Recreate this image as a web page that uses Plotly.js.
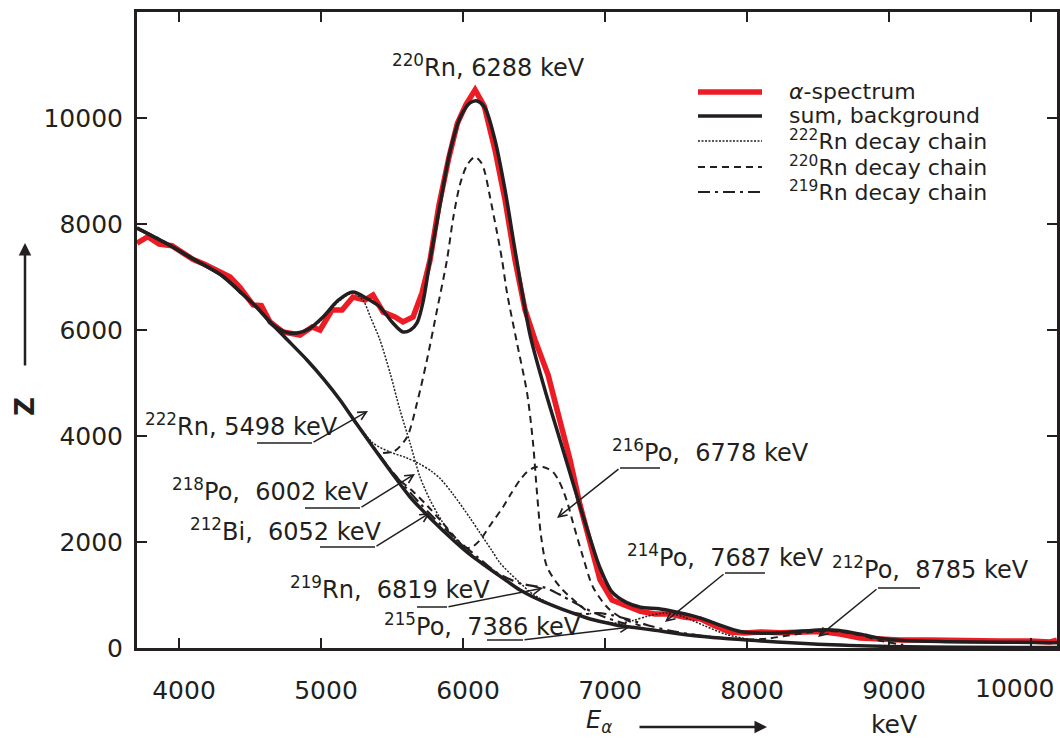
<!DOCTYPE html>
<html>
<head>
<meta charset="utf-8">
<script src="https://cdn.plot.ly/plotly-3.0.1.min.js"></script>
<style>html,body{margin:0;padding:0;background:#fff;}#chart{width:1060px;height:740px;}</style>
</head>
<body>
<div id="chart"></div>
<script>
// ---------- data ----------
const xTicks = [4000, 5000, 6000, 7000, 8000, 9000, 10000];
const xTickText = ['4000', '5000', '6000', '7000', '8000', '9000', ''];  // 10000 is drawn shifted left, as in the reference
const yTicks = [0, 2000, 4000, 6000, 8000, 10000];

// measured alpha spectrum
const redX = [3704,3780,3860,3950,4030,4100,4180,4260,4360,4430,4521,4580,4641,4732,4852,4937,4993,5077,5148,5225,5310,5366,5437,5521,5577,5648,5711,5768,5830,5900,5960,6020,6085,6150,6225,6296,6366,6437,6507,6599,6683,6754,6824,6894,6965,7049,7176,7250,7352,7458,7563,7669,7775,7880,7986,8092,8232,8373,8514,8655,8796,8937,9077,9289,9500,9782,9993,10134,10183];
const redY = [7640,7760,7620,7590,7450,7330,7240,7130,7000,6800,6473,6460,6152,5963,5906,6057,6000,6378,6378,6623,6567,6661,6340,6246,6152,6246,6699,7322,8350,9250,9900,10250,10530,10220,9400,8454,7322,6378,5812,5152,4302,3548,2698,1944,1283,906,755,690,640,640,580,550,415,302,283,302,290,290,310,264,189,170,151,151,132,132,132,113,150];

// fitted sum
const sumX = [3704,3900,4100,4300,4430,4550,4662,4750,4831,4920,5014,5120,5225,5320,5415,5500,5577,5630,5676,5720,5768,5838,5908,5979,6049,6099,6155,6225,6296,6366,6472,6577,6683,6789,6894,6965,7049,7150,7250,7380,7500,7600,7700,7800,7950,8100,8250,8400,8550,8650,8800,8950,9100,9400,9800,10183];
const sumY = [7925,7650,7340,7030,6720,6420,6095,5960,5944,6030,6246,6560,6718,6600,6435,6150,5963,6000,6133,6550,7322,8360,9360,10001,10284,10322,10190,9586,8642,7510,5906,4868,3925,2982,2076,1510,1057,860,770,740,680,620,540,440,310,280,290,320,345,330,260,180,140,120,110,100];

// background
const bgX = [3704,3900,4100,4300,4430,4550,4641,4750,4901,5020,5134,5250,5366,5500,5627,5780,5930,6050,6169,6290,6401,6520,6634,6750,6873,7000,7106,7220,7338,7600,8000,8500,9000,9500,10183];
const bgY = [7925,7650,7340,7030,6720,6420,6150,5850,5435,5070,4680,4230,3793,3300,2849,2420,2038,1760,1528,1300,1094,930,800,680,566,480,420,380,340,240,150,70,30,15,8];

// 222Rn decay chain (peak + background)
const rn222X = [4550,4662,4750,4831,4920,5014,5120,5225,5296,5350,5415,5486,5556,5627,5697,5768,5850,5930,6050,6169];
const rn222Y = [6420,6095,5950,5930,6010,6220,6530,6700,6560,6230,5812,5190,4491,3868,3227,2793,2400,2110,1790,1540];
const po218X = [5134,5254,5366,5486,5600,5697,5780,5838,5930,6050,6120,6200,6261,6380,6500,6634];
const po218Y = [4680,4240,3868,3698,3590,3470,3330,3200,2900,2450,2170,1850,1604,1283,1000,810];
const po214X = [6873,7000,7106,7200,7300,7420,7550,7700,7850,8000,8150];
const po214Y = [566,490,470,520,600,660,590,420,260,170,120];

// 220Rn decay chain
const rn220X = [5437,5520,5606,5676,5746,5817,5887,5930,5979,6030,6085,6130,6155,6190,6235,6275,6310,6380,6451,6493,6521,6550,6592,6683,6803,6900];
const rn220Y = [3680,3720,3982,4623,5435,6378,7322,8100,8750,9120,9266,9150,8963,8510,7900,7322,6699,5755,4812,3868,2925,2100,1528,1151,849,640];
const po216X = [5930,6000,6060,6120,6200,6282,6340,6401,6450,6493,6530,6563,6600,6634,6670,6704,6740,6775,6845,6915,7014,7106,7250];
const po216Y = [2040,1900,1900,2038,2350,2661,2920,3170,3320,3396,3420,3415,3380,3321,3180,2982,2700,2359,1717,1151,774,585,420];
const bi212X = [5450,5550,5650,5750,5850,5950,6050];
const bi212Y = [3480,3180,2950,2680,2380,2070,1770];
const po212X = [8000,8150,8300,8450,8550,8650,8800,8950,9100];
const po212Y = [150,180,240,300,325,310,240,130,60];

// 219Rn decay chain
const rn219X = [5300,5500,5700,5900,6100,6239,6400,6500,6577,6700,6850,7000,7150];
const rn219Y = [4050,3330,2720,2180,1720,1420,1220,1170,1140,980,760,580,450];
const po215X = [6750,6850,6950,7050,7176,7300,7450,7600,7800];
const po215Y = [680,640,660,620,530,430,330,260,190];

const legendLabels = ['<i>α</i>-spectrum', 'sum, background', '<sup>222</sup>Rn decay chain', '<sup>220</sup>Rn decay chain', '<sup>219</sup>Rn decay chain'];

// ---------- styling ----------
const INK = '#231f20';
const RED = '#ed1c24';
const FONT = 'DejaVu Sans';
const st = {
  red:   {color: RED, width: 5.5},
  solid: {color: INK, width: 3.5},
  dot:   {color: INK, width: 1.5, dash: '2px,1.5px'},
  dash:  {color: INK, width: 2, dash: '7px,5px'},
  dashdot: {color: INK, width: 2.2, dash: '12px,5px,3px,5px'}
};

function tr(x, y, line, name, spline) {
  return {type: 'scatter', mode: 'lines', x: x, y: y, name: name,
    line: Object.assign({shape: spline ? 'spline' : 'linear', smoothing: 0.8}, line),
    hoverinfo: 'x+y+name', showlegend: false, cliponaxis: true};
}

const traces = [
  tr(redX, redY, st.red, 'α-spectrum', false),
  tr(rn222X, rn222Y, st.dot, '222Rn', true),
  tr(po218X, po218Y, st.dot, '218Po', true),
  tr(po214X, po214Y, st.dot, '214Po', true),
  tr(rn220X, rn220Y, st.dash, '220Rn', true),
  tr(po216X, po216Y, st.dash, '216Po', true),
  tr(bi212X, bi212Y, st.dash, '212Bi', true),
  tr(po212X, po212Y, st.dash, '212Po', true),
  tr(rn219X, rn219Y, st.dashdot, '219Rn', true),
  tr(po215X, po215Y, st.dashdot, '215Po', true),
  tr(bgX, bgY, st.solid, 'background', true),
  tr(sumX, sumY, st.solid, 'sum', true)
];

// ---------- layout helpers (reference pixel -> paper) ----------
const L = 137, R = 1057, T = 12, B = 648;
const P = px => (px - L) / (R - L);
const Q = py => (B - py) / (B - T);

const annotations = [];
const shapes = [];

function label(text, left, cy, ux, ex, ey, tx, ty) {
  annotations.push({xref: 'paper', yref: 'paper', x: P(left), y: Q(cy), xanchor: 'left', yanchor: 'middle',
    text: text, showarrow: false, font: {family: FONT, size: 24, color: INK}});
  if (ux !== null) {
    shapes.push({type: 'line', xref: 'paper', yref: 'paper', x0: P(ux), y0: Q(ey), x1: P(ex), y1: Q(ey),
      line: {color: INK, width: 1.5}});
    annotations.push({xref: 'paper', yref: 'paper', x: P(tx), y: Q(ty), ax: ex - tx, ay: ey - ty,
      text: '', showarrow: true, arrowhead: 5, arrowsize: 1.1, arrowwidth: 1.5, arrowcolor: INK, standoff: 0});
  }
}
const NB = '\u00a0';
label('<sup>222</sup>Rn, 5498 keV', 143, 425, 257, 312, 443, 368, 411);
label('<sup>218</sup>Po,' + NB + NB + '6002 keV', 170, 490, 305, 360, 508, 415, 474);
label('<sup>212</sup>Bi,' + NB + NB + '6052 keV', 188, 530, 320, 375, 547, 430, 513);
label('<sup>219</sup>Rn,' + NB + NB + '6819 keV', 288, 588, 417, 447, 607, 543, 588);
label('<sup>215</sup>Po,' + NB + NB + '7386 keV', 382, 625, 487, 523, 640, 630, 627);
label('<sup>216</sup>Po,' + NB + NB + '6778 keV', 610, 451, 660, 620, 468, 557, 518);
label('<sup>214</sup>Po,' + NB + NB + '7687 keV', 625, 556, 765, 725, 573, 665, 622);
label('<sup>212</sup>Po,' + NB + NB + '8785 keV', 830, 568, 920, 878, 588, 818, 637);
label('<sup>220</sup>Rn, 6288 keV', 390, 66, null);

// manual legend
const legRows = [92, 116, 141, 167, 192];
const legStyles = [st.red, st.solid, st.dot, st.dash, st.dashdot];
legendLabels.forEach((t, i) => {
  shapes.push({type: 'line', xref: 'paper', yref: 'paper', x0: P(698), x1: P(762), y0: Q(legRows[i]), y1: Q(legRows[i]),
    line: Object.assign({}, legStyles[i])});
  annotations.push({xref: 'paper', yref: 'paper', x: P(787), y: Q(legRows[i] - 1), xanchor: 'left', yanchor: 'middle',
    text: t, showarrow: false, font: {family: FONT, size: 22, color: INK}});
});

// last x tick label, shifted left like the reference
annotations.push({xref: 'paper', yref: 'paper', x: P(1015), y: Q(688), xanchor: 'center', yanchor: 'middle',
  text: String(xTicks[xTicks.length - 1]), showarrow: false, font: {family: FONT, size: 25, color: INK}});

// axis titles with arrows
annotations.push({xref: 'paper', yref: 'paper', x: P(584), y: Q(721), xanchor: 'left', yanchor: 'middle',
  text: '<i>E</i><sub><i>α</i></sub>', showarrow: false, font: {family: FONT, size: 24, color: INK}});
annotations.push({xref: 'paper', yref: 'paper', x: P(767), y: Q(727), ax: -129, ay: 0, text: '',
  showarrow: true, arrowhead: 2, arrowsize: 1, arrowwidth: 2.5, arrowcolor: INK, standoff: 0});
annotations.push({xref: 'paper', yref: 'paper', x: P(894), y: Q(724), xanchor: 'center', yanchor: 'middle',
  text: 'keV', showarrow: false, font: {family: FONT, size: 25, color: INK}});
annotations.push({xref: 'paper', yref: 'paper', x: P(25), y: Q(407), xanchor: 'center', yanchor: 'middle',
  text: '<b>Z</b>', textangle: -90, showarrow: false, font: {family: FONT, size: 26, color: INK}});
annotations.push({xref: 'paper', yref: 'paper', x: P(25), y: Q(243), ax: 0, ay: 124, text: '',
  showarrow: true, arrowhead: 2, arrowsize: 1, arrowwidth: 2.5, arrowcolor: INK, standoff: 0});

const axisCommon = {
  ticks: 'inside', ticklen: 10, tickwidth: 2.5, tickcolor: INK,
  showline: true, linewidth: 3, linecolor: INK, mirror: 'ticks',
  showgrid: false, zeroline: false,
  tickfont: {family: FONT, size: 25, color: INK}
};

const layout = {
  width: 1060, height: 740,
  margin: {l: L, r: 1060 - R, t: T, b: 740 - B},
  paper_bgcolor: '#ffffff', plot_bgcolor: '#ffffff',
  showlegend: false,
  xaxis: Object.assign({}, axisCommon, {range: [3704, 10183], tickmode: 'array', tickvals: xTicks,
    ticktext: xTickText, ticklabelstandoff: 18, ticklabelshift: 5}),
  yaxis: Object.assign({}, axisCommon, {range: [0, 12000], tickmode: 'array', tickvals: yTicks,
    ticktext: yTicks.map(String), ticklabelstandoff: 6}),
  annotations: annotations,
  shapes: shapes
};

Plotly.newPlot('chart', traces, layout, {staticPlot: true, displayModeBar: false});
</script>
</body>
</html>
